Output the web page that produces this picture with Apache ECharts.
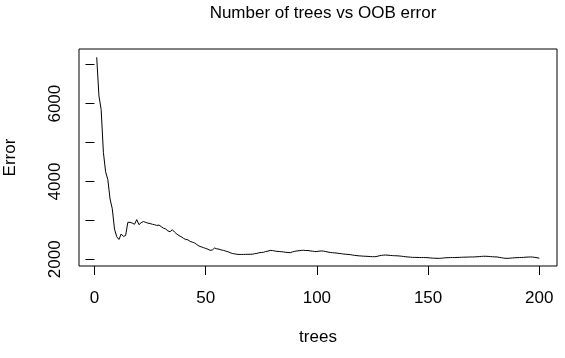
<!DOCTYPE html>
<html lang="en">
<head>
    <meta charset="UTF-8">
    <title>Number of trees vs OOB error</title>
    <style>
        html, body { margin: 0; padding: 0; background: #fff; }
    </style>
</head>
<body>
<div id="main" style="width: 565px; height: 358px;"></div>

<script src="https://cdn.jsdelivr.net/npm/echarts@6/dist/echarts.min.js"></script>

<script>
// OOB error, one value per tree count 1..200
var oobError = [
    7190, 6200, 5850, 4750, 4250, 4050, 3550, 3300, 2780, 2580,
    2510, 2650, 2590, 2610, 2950, 2950, 2930, 2900, 3020, 2890,
    2940, 2970, 2950, 2930, 2920, 2900, 2890, 2870, 2880, 2840,
    2800, 2780, 2730, 2710, 2760, 2700, 2650, 2610, 2580, 2540,
    2510, 2500, 2460, 2440, 2420, 2380, 2340, 2320, 2300, 2280,
    2260, 2230, 2240, 2290, 2270, 2260, 2240, 2230, 2210, 2195,
    2170, 2150, 2140, 2130, 2125, 2125, 2125, 2128, 2128, 2130,
    2130, 2145, 2150, 2170, 2175, 2180, 2200, 2210, 2230, 2225,
    2215, 2205, 2200, 2195, 2190, 2180, 2175, 2170, 2190, 2205,
    2215, 2220, 2230, 2232, 2225, 2228, 2215, 2210, 2200, 2200,
    2210, 2215, 2210, 2200, 2185, 2175, 2170, 2165, 2160, 2150,
    2145, 2135, 2130, 2125, 2120, 2110, 2100, 2095, 2088, 2085,
    2080, 2078, 2075, 2070, 2068, 2066, 2075, 2090, 2100, 2108,
    2110, 2105, 2100, 2095, 2092, 2090, 2085, 2080, 2072, 2065,
    2060, 2055, 2050, 2050, 2048, 2046, 2045, 2045, 2045, 2040,
    2035, 2030, 2028, 2025, 2025, 2028, 2035, 2040, 2042, 2045,
    2045, 2045, 2048, 2050, 2052, 2055, 2055, 2058, 2060, 2060,
    2062, 2065, 2070, 2075, 2078, 2078, 2075, 2070, 2065, 2062,
    2060, 2050, 2040, 2030, 2025, 2025, 2030, 2035, 2040, 2042,
    2045, 2048, 2050, 2055, 2058, 2060, 2058, 2050, 2040, 2028
];

var xTicks = [0, 50, 100, 150, 200];
var yTicks = [2000, 3000, 4000, 5000, 6000, 7000];
var yLabels = [2000, 4000, 6000];

var points = oobError.map(function (v, i) { return [i + 1, v]; });

var font = 'Liberation Sans, Arial, Helvetica, sans-serif';

var myChart = echarts.init(document.getElementById('main'));

myChart.setOption({
    animation: false,
    backgroundColor: '#fff',
    title: {
        text: 'Number of trees vs OOB error',
        left: 318,
        top: 0,
        textAlign: 'center',
        textStyle: { fontFamily: font, fontSize: 17, fontWeight: 'normal', color: '#000' }
    },
    grid: {
        left: 79, right: 8, top: 49, bottom: 92,
        containLabel: false,
        outerBoundsMode: 'none',
        show: true,
        borderColor: '#000',
        borderWidth: 1,
        backgroundColor: 'transparent'
    },
    xAxis: {
        type: 'value',
        min: -6.96,
        max: 207.96,
        name: 'trees',
        nameLocation: 'middle',
        nameGap: 63,
        nameTextStyle: { fontFamily: font, fontSize: 17, color: '#000' },
        splitLine: { show: false },
        axisLine: { show: false },
        axisTick: {
            show: true, inside: false, length: 9,
            customValues: xTicks,
            lineStyle: { color: '#000', width: 1 }
        },
        axisLabel: {
            customValues: xTicks,
            margin: 24,
            fontFamily: font, fontSize: 17, color: '#000'
        }
    },
    yAxis: {
        type: 'value',
        min: 1828,
        max: 7404,
        name: 'Error',
        nameLocation: 'middle',
        nameGap: 60,
        nameRotate: 90,
        nameTextStyle: { fontFamily: font, fontSize: 17, color: '#000' },
        splitLine: { show: false },
        axisLine: { show: false },
        axisTick: {
            show: true, inside: false, length: 9,
            customValues: yTicks,
            lineStyle: { color: '#000', width: 1 }
        },
        axisLabel: {
            customValues: yLabels,
            rotate: 90,
            margin: 15,
            formatter: function (v) { return String(v); },
            fontFamily: font, fontSize: 17, color: '#000'
        }
    },
    series: [{
        type: 'line',
        data: points,
        showSymbol: false,
        symbol: 'none',
        lineStyle: { color: '#000', width: 1 }
    }]
});
</script>
</body>
</html>
